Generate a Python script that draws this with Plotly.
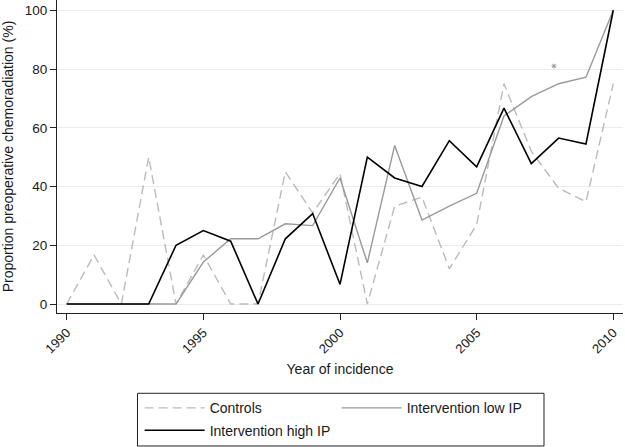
import plotly.graph_objects as go

years = list(range(1990, 2011))
controls = [0, 16.7, 0, 50, 0, 16.7, 0, 0, 45, 31, 44.4, 0, 33.3, 36.4, 12, 27, 75, 52, 39.4, 34.8, 75]
low_ip = [0, 0, 0, 0, 0, 14.3, 22.2, 22.2, 27.3, 26.7, 42.9, 14, 54, 28.6, 33.3, 37.7, 64, 70.6, 75, 77.2, 100]
high_ip = [0, 0, 0, 0, 20, 25, 21.4, 0, 22.2, 30.8, 6.7, 50, 42.9, 40, 55.6, 46.7, 66.7, 47.8, 56.5, 54.5, 100]
star_x = [2007.83]
star_y = [81]

x_ticks = [1990, 1995, 2000, 2005, 2010]
y_ticks = [0, 20, 40, 60, 80, 100]

FONT = "Liberation Sans, Arial, sans-serif"

fig = go.Figure()
fig.add_trace(go.Scatter(x=years, y=controls, mode="lines", name="Controls",
                         line=dict(color="#bbbbbb", width=1.4, dash="9px,5px"),
                         legend="legend"))
fig.add_trace(go.Scatter(x=years, y=low_ip, mode="lines", name="Intervention low IP",
                         line=dict(color="#999999", width=1.4),
                         legend="legend"))
fig.add_trace(go.Scatter(x=years, y=high_ip, mode="lines", name="Intervention high IP",
                         line=dict(color="#000000", width=1.6),
                         legend="legend2"))
fig.add_trace(go.Scatter(x=star_x, y=star_y, mode="markers", showlegend=False,
                         marker=dict(symbol="asterisk-open", size=4, color="#999999",
                                     line=dict(color="#999999", width=1))))

# legend border box
fig.add_shape(type="rect", xref="paper", yref="paper",
              x0=0.1422, x1=0.8604, y0=-0.4249, y1=-0.2565,
              line=dict(color="#222222", width=1), fillcolor="rgba(0,0,0,0)")

fig.update_layout(
    width=625, height=447,
    margin=dict(l=57, r=2, t=0, b=134, autoexpand=False),
    paper_bgcolor="white", plot_bgcolor="white",
    font=dict(family=FONT, size=14, color="#1a1a1a"),
    xaxis=dict(range=[1989.645, 2010.355], tickvals=x_ticks, ticktext=[str(v) for v in x_ticks],
               tickangle=-45, ticks="outside", ticklen=6, tickcolor="#222222",
               showline=True, linecolor="#222222", linewidth=1, showgrid=False, zeroline=False,
               tickfont=dict(size=13), automargin=False,
               title=dict(text="Year of incidence", font=dict(size=14), standoff=8)),
    yaxis=dict(range=[-3.06, 103.5], tickvals=y_ticks, ticks="outside", ticklen=6,
               tickcolor="#222222", showline=True, linecolor="#222222", linewidth=1,
               showgrid=True, gridcolor="#ececec", gridwidth=1, zeroline=False,
               tickfont=dict(size=13.5), automargin=False,
               title=dict(text="Proportion preoperative chemoradiation (%)", font=dict(size=14))),
    legend=dict(orientation="h", x=0.146, xanchor="left", y=-0.3045, yanchor="middle",
                entrywidth=122, itemwidth=60, font=dict(size=14), bgcolor="rgba(0,0,0,0)"),
    legend2=dict(orientation="h", x=0.146, xanchor="left", y=-0.376, yanchor="middle",
                 itemwidth=60, font=dict(size=14), bgcolor="rgba(0,0,0,0)"),
    showlegend=True,
)

fig.write_html("out.html", config={"displayModeBar": False},
               post_script="document.body.style.margin='0';document.body.style.padding='0';")
